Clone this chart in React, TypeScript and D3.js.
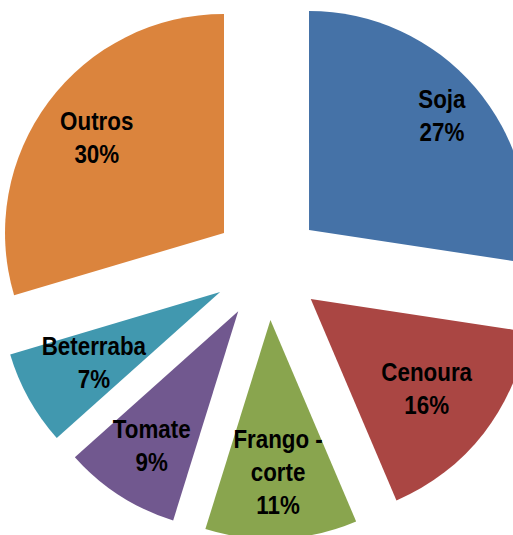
import { useEffect, useRef } from "react"
import * as d3 from "d3"

// culturas e participação (%)
const categories = ["Soja", "Cenoura", "Frango - corte", "Tomate", "Beterraba", "Outros"]
const values = [27.4, 16.2, 11.2, 8.6, 7.0, 29.6]
const colors = ["#4572A7", "#AA4643", "#89A54E", "#71588F", "#4198AF", "#DB843D"]
// linhas de cada rótulo (Excel quebra "Frango - corte")
const labelLines = [["Soja"], ["Cenoura"], ["Frango -", "corte"], ["Tomate"], ["Beterraba"], ["Outros"]]
// posição radial do rótulo (fração do raio, a partir do vértice da fatia)
const labelRadius = [0.8, 0.67, 0.695, 0.73, 0.66, 0.725]

export default function App() {
  const svgRef = useRef<SVGSVGElement>(null)

  useEffect(() => {
    if (!svgRef.current) return
    const width = 513
    const height = 535
    const cx = 267.7
    const cy = 265.5
    const radius = 219
    const explode = 54.5
    const lineH = 33

    const svg = d3.select(svgRef.current)
    svg.selectAll("*").remove()
    svg.attr("width", width).attr("height", height)

    const pie = d3.pie<number>().sort(null).value((d) => d)
    const arcs = pie(values)
    const arc = d3.arc<d3.PieArcDatum<number>>().innerRadius(0).outerRadius(radius)

    const g = svg.append("g").attr("transform", `translate(${cx},${cy})`)

    const slice = g
      .selectAll("g.slice")
      .data(arcs)
      .enter()
      .append("g")
      .attr("class", "slice")
      .attr("transform", (d) => {
        const a = (d.startAngle + d.endAngle) / 2
        return `translate(${explode * Math.sin(a)},${-explode * Math.cos(a)})`
      })

    slice
      .append("path")
      .attr("d", arc)
      .attr("fill", (d, i) => colors[i])

    // rótulos: nome + percentual arredondado, fonte condensada (Arial Narrow no original)
    slice.each(function (d, i) {
      const a = (d.startAngle + d.endAngle) / 2
      const r = radius * labelRadius[i]
      const x = r * Math.sin(a)
      const y = -r * Math.cos(a)
      const lines = [...labelLines[i], `${Math.round(values[i])}%`]
      const t = d3
        .select(this)
        .append("text")
        .attr("transform", `translate(${x},${y}) scale(0.86,1)`)
        .attr("text-anchor", "middle")
        .attr("font-family", "'Liberation Sans', Arial, sans-serif")
        .attr("font-weight", "bold")
        .attr("font-size", 26)
        .attr("fill", "#000")
      lines.forEach((ln, k) => {
        t.append("tspan")
          .attr("x", 0)
          .attr("y", (k - (lines.length - 1) / 2) * lineH + 9)
          .text(ln)
      })
    })
  }, [])

  return (
    <svg
      ref={svgRef}
      style={{ position: "absolute", left: 0, top: 0, background: "#fff" }}
    ></svg>
  )
}
